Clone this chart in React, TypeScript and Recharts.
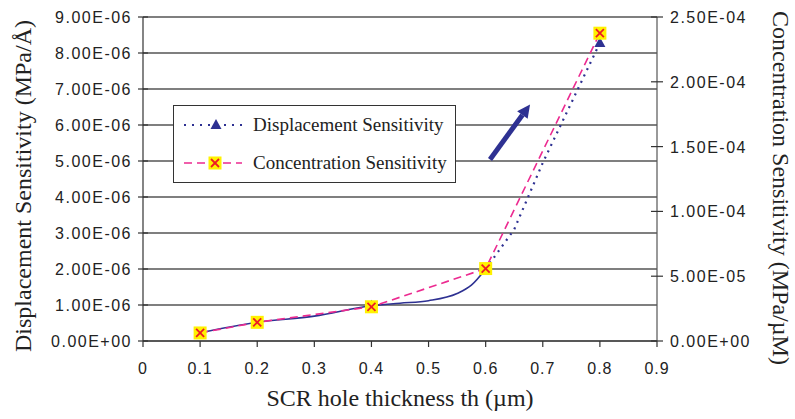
import React from 'react';
import { LineChart, Line, XAxis, YAxis, CartesianGrid, Legend, ReferenceLine, Label } from 'recharts';

// Measured points
const measuredThickness = [0.1, 0.2, 0.4, 0.6, 0.8];
const displacementSensitivity = [2.3e-7, 5.2e-7, 9.8e-7, 2.0e-6, 8.28e-6];
const concentrationSensitivity = [6.2e-6, 1.44e-5, 2.64e-5, 5.59e-5, 2.375e-4];

// Smooth displacement curve (solid)
const curveThickness = [0.1, 0.2, 0.3, 0.4, 0.45, 0.5, 0.55, 0.575, 0.6];
const curveDisplacement = [2.3e-7, 5.2e-7, 6.9e-7, 9.8e-7, 1.05e-6, 1.12e-6, 1.32e-6, 1.55e-6, 2.0e-6];

// Dotted displacement trend beyond 0.6
const trendThickness = [0.6, 0.65, 0.7, 0.76, 0.8];
const trendDisplacement = [2.0e-6, 3.1e-6, 4.95e-6, 6.95e-6, 8.28e-6];

// Annotation arrow (data coords)
const arrowThickness = [0.6076, 0.6777];
const arrowDisplacement = [5.04e-6, 6.57e-6];

const xTicks = [0, 0.1, 0.2, 0.3, 0.4, 0.5, 0.6, 0.7, 0.8, 0.9];
const leftTicks = [0, 1e-6, 2e-6, 3e-6, 4e-6, 5e-6, 6e-6, 7e-6, 8e-6, 9e-6];
const rightTicks = [0, 5e-5, 1e-4, 1.5e-4, 2e-4, 2.5e-4];

const NAVY = '#2E3192';
const PINK = '#EC2A90';
const YELLOW = '#FFF200';
const RED = '#ED1C24';
const SANS = '"Liberation Sans", Arial, sans-serif';
const SERIF = '"Liberation Serif", "Times New Roman", serif';

const dispPoints = measuredThickness.map((x, i) => ({ x, y: displacementSensitivity[i] }));
const concPoints = measuredThickness.map((x, i) => ({ x, y: concentrationSensitivity[i] }));
const curvePoints = curveThickness.map((x, i) => ({ x, y: curveDisplacement[i] }));
const trendPoints = trendThickness.map((x, i) => ({ x, y: trendDisplacement[i] }));

const fmtSci = (v: number) => {
  const s = v.toExponential(2);
  const [m, e] = s.split('e');
  const sign = e[0] === '-' ? '-' : '+';
  const digits = e.replace(/^[+-]/, '').padStart(2, '0');
  return `${m}E${sign}${digits}`;
};

const Triangle = (props: any) => {
  const { cx, cy } = props;
  if (cx == null || cy == null) return <g />;
  return <polygon points={`${cx},${cy - 6} ${cx - 5.5},${cy + 4} ${cx + 5.5},${cy + 4}`} fill={NAVY} />;
};

const SquareX = (props: any) => {
  const { cx, cy } = props;
  if (cx == null || cy == null) return <g />;
  return (
    <g>
      <rect x={cx - 6.5} y={cy - 6.5} width={13} height={13} fill={YELLOW} />
      <line x1={cx - 4} y1={cy - 4} x2={cx + 4} y2={cy + 4} stroke={RED} strokeWidth={1.8} />
      <line x1={cx - 4} y1={cy + 4} x2={cx + 4} y2={cy - 4} stroke={RED} strokeWidth={1.8} />
    </g>
  );
};

const XTick = (props: any) => {
  const { x, y, payload } = props;
  return (
    <g>
      <line x1={x} y1={y} x2={x} y2={y + 6} stroke="#333" strokeWidth={1.2} />
      <text x={x} y={y + 33} textAnchor="middle" fontFamily={SANS} fontSize={16} letterSpacing={1} fill="#222">
        {String(payload.value)}
      </text>
    </g>
  );
};

const LeftTick = (props: any) => {
  const { x, y, payload } = props;
  return (
    <g>
      <line x1={x - 5} y1={y} x2={x + 5} y2={y} stroke="#333" strokeWidth={1.2} />
      <text x={x - 11} y={y + 6} textAnchor="end" fontFamily={SANS} fontSize={16} letterSpacing={1.5} fill="#222">
        {fmtSci(payload.value)}
      </text>
    </g>
  );
};

const RightTick = (props: any) => {
  const { x, y, payload } = props;
  return (
    <g>
      <line x1={x - 6} y1={y} x2={x + 6} y2={y} stroke="#333" strokeWidth={1.2} />
      <text x={x + 13} y={y + 6} textAnchor="start" fontFamily={SANS} fontSize={16} letterSpacing={1.5} fill="#222">
        {fmtSci(payload.value)}
      </text>
    </g>
  );
};

const Arrow = (props: any) => {
  const { x1, y1, x2, y2 } = props;
  if ([x1, y1, x2, y2].some((v) => v == null || isNaN(v))) return <g />;
  const dx = x2 - x1;
  const dy = y2 - y1;
  const len = Math.sqrt(dx * dx + dy * dy);
  const ux = dx / len;
  const uy = dy / len;
  const headLen = 13;
  const headW = 6.5;
  const bx = x2 - ux * headLen;
  const by = y2 - uy * headLen;
  const px = -uy;
  const py = ux;
  return (
    <g>
      <line x1={x1} y1={y1} x2={bx} y2={by} stroke={NAVY} strokeWidth={5} />
      <polygon
        points={`${x2},${y2} ${bx + px * headW},${by + py * headW} ${bx - px * headW},${by - py * headW}`}
        fill={NAVY}
      />
    </g>
  );
};

const LegendBox = () => (
  <div
    style={{
      width: 283,
      height: 78,
      border: '1.5px solid #333',
      background: '#fff',
      boxSizing: 'border-box',
      position: 'relative',
    }}
  >
    <svg width={283} height={78} style={{ position: 'absolute', left: 0, top: 0 }}>
      <line x1={10} y1={19} x2={68} y2={19} stroke={NAVY} strokeWidth={2.2} strokeDasharray="2 6" />
      <Triangle cx={42} cy={19} />
      <text x={79} y={25} fontFamily={SERIF} fontSize={19} fill="#222">Displacement Sensitivity</text>
      <line x1={10} y1={57} x2={68} y2={57} stroke={PINK} strokeWidth={1.6} strokeDasharray="8 5" />
      <SquareX cx={41} cy={57} />
      <text x={79} y={63} fontFamily={SERIF} fontSize={19} fill="#222">Concentration Sensitivity</text>
    </svg>
  </div>
);

export default function App() {
  return (
    <div style={{ position: 'absolute', left: 0, top: 0, width: 795, height: 419, background: '#fff' }}>
      <LineChart width={795} height={419} margin={{ top: 17, right: 0, bottom: 0, left: 0 }}>
        <CartesianGrid yAxisId="left" horizontal vertical={false} stroke="#555" strokeWidth={1.4} />
        <XAxis
          type="number"
          dataKey="x"
          domain={[0, 0.9]}
          ticks={xTicks}
          interval={0}
          allowDataOverflow
          height={78}
          axisLine={{ stroke: '#333', strokeWidth: 1.2 }}
          tickLine={false}
          tickSize={0}
          tickMargin={0}
          tick={<XTick />}
        >
          <Label
            content={(p: any) => {
              const vb = p.viewBox || {};
              return (
                <text x={vb.x + vb.width / 2} y={vb.y + 65} textAnchor="middle" fontFamily={SERIF} fontSize={24} fill="#222">
                  SCR hole thickness th (µm)
                </text>
              );
            }}
          />
        </XAxis>
        <YAxis
          yAxisId="left"
          domain={[0, 9e-6]}
          ticks={leftTicks}
          interval={0}
          width={143}
          axisLine={{ stroke: '#333', strokeWidth: 1.2 }}
          tickLine={false}
          tickSize={0}
          tickMargin={0}
          tick={<LeftTick />}
        >
          <Label
            content={() => {
              const cy = 186;
              return (
                <text x={31} y={cy} transform={`rotate(-90, 31, ${cy})`} textAnchor="middle" fontFamily={SERIF} fontSize={24} fill="#222">
                  Displacement Sensitivity (MPa/Å)
                </text>
              );
            }}
          />
        </YAxis>
        <YAxis
          yAxisId="right"
          orientation="right"
          domain={[0, 2.5e-4]}
          ticks={rightTicks}
          interval={0}
          width={138}
          axisLine={{ stroke: '#555', strokeWidth: 1.2 }}
          tickLine={false}
          tickSize={0}
          tickMargin={0}
          tick={<RightTick />}
        >
          <Label
            content={() => {
              const cy = 188;
              return (
                <text x={773} y={cy} transform={`rotate(90, 773, ${cy})`} textAnchor="middle" fontFamily={SERIF} fontSize={24} fill="#222">
                  Concentration Sensitivity (MPa/µM)
                </text>
              );
            }}
          />
        </YAxis>
        <Legend
          verticalAlign="middle"
          align="center"
          layout="horizontal"
          wrapperStyle={{ position: 'absolute', left: 173, top: 105, width: 283, height: 78 }}
          content={() => <LegendBox />}
        />
        <ReferenceLine
          yAxisId="left"
          segment={[
            { x: arrowThickness[0], y: arrowDisplacement[0] },
            { x: arrowThickness[1], y: arrowDisplacement[1] },
          ]}
          shape={(p: any) => <Arrow {...p} />}
          ifOverflow="visible"
        />
        <Line
          yAxisId="left"
          data={curvePoints}
          dataKey="y"
          type="monotone"
          stroke={NAVY}
          strokeWidth={1.6}
          dot={false}
          activeDot={false}
          isAnimationActive={false}
          legendType="none"
        />
        <Line
          yAxisId="left"
          data={trendPoints}
          dataKey="y"
          type="linear"
          stroke={NAVY}
          strokeWidth={2.2}
          strokeDasharray="2 5"
          dot={false}
          activeDot={false}
          isAnimationActive={false}
          legendType="none"
        />
        <Line
          yAxisId="left"
          data={dispPoints}
          dataKey="y"
          name="Displacement Sensitivity"
          stroke="none"
          dot={<Triangle />}
          activeDot={false}
          isAnimationActive={false}
        />
        <Line
          yAxisId="right"
          data={concPoints}
          dataKey="y"
          name="Concentration Sensitivity"
          type="linear"
          stroke={PINK}
          strokeWidth={1.6}
          strokeDasharray="8 5"
          dot={<SquareX />}
          activeDot={false}
          isAnimationActive={false}
        />
      </LineChart>
    </div>
  );
}
